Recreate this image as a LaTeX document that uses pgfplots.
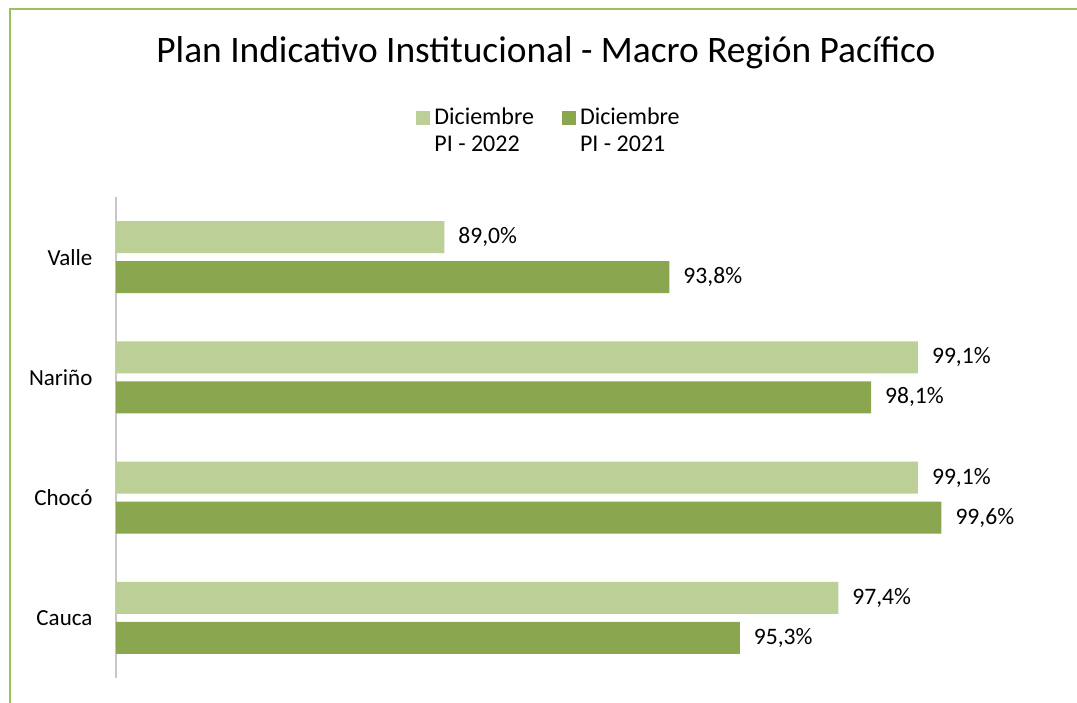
\documentclass[border=0pt]{standalone}
\usepackage{pgfplots}
\pgfplotsset{compat=1.18}
\usepackage{fontspec}
\setmainfont{Carlito}
\definecolor{lightbar}{RGB}{187,207,150}
\definecolor{darkbar}{RGB}{138,166,78}
\definecolor{framec}{RGB}{155,194,88}
\begin{document}
\begin{tikzpicture}
\useasboundingbox (0,0) rectangle (538.5pt,351pt);
\draw[framec, line width=1pt] (4.75pt,-2pt) -- (4.75pt,346.25pt) -- (541pt,346.25pt);
\node[anchor=base, font=\fontsize{18.7}{22}\selectfont] at (273pt,319.5pt) {Plan Indicativo Institucional - Macro Región Pacífico};
\begin{axis}[
  at={(58pt,12pt)}, anchor=south west,
  scale only axis, width=469pt, height=240.5pt,
  xbar, xmin=82, xmax=102, ymin=-0.5, ymax=3.5,
  axis x line=none, axis y line*=left,
  y axis line style={draw=black!22, line width=0.8pt, -},
  ytick={0,1,2,3}, yticklabels={Cauca,Chocó,Nariño,Valle},
  ytick style={draw=none},
  yticklabel style={font=\fontsize{11.5}{14}\selectfont, xshift=-4pt},
  bar width=16pt,
  nodes near coords={\pgfmathprintnumber[fixed,fixed zerofill,precision=1,use comma,assume math mode=true]{\pgfplotspointmeta}\%},
  nodes near coords style={anchor=west, xshift=3.5pt, font=\fontsize{11.8}{14}\selectfont, text=black},
  point meta=explicit symbolic,
  legend columns=2,
  legend style={at={(0.4627,1)}, anchor=south, yshift=17pt, draw=none,
    font=\fontsize{12}{13.5}\selectfont, cells={align=left},
    /tikz/every even column/.append style={column sep=12pt}},
  legend image code/.code={\fill[#1, draw=none] (0pt,3.3pt) rectangle (7pt,10.3pt);},
]
\addplot[fill=lightbar, draw=none, bar shift=10pt] coordinates {(97.4,0) [97.4] (99.1,1) [99.1] (99.1,2) [99.1] (89.0,3) [89.0]};
\addplot[fill=darkbar, draw=none, bar shift=-10pt] coordinates {(95.3,0) [95.3] (99.6,1) [99.6] (98.1,2) [98.1] (93.8,3) [93.8]};
\legend{Diciembre\\PI - 2022, Diciembre\\PI - 2021}
\end{axis}
\end{tikzpicture}
\end{document}
